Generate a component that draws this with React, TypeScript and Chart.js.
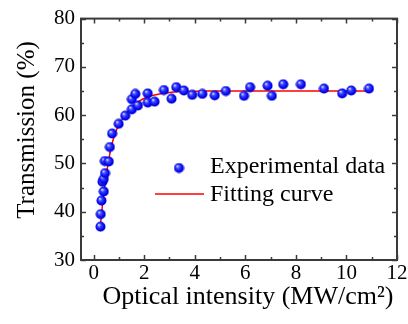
import React, { useEffect, useRef } from "react";
import { Chart, registerables } from "chart.js";

Chart.register(...registerables);

// Experimental data
const expX = [0.27, 0.28, 0.31, 0.40, 0.35, 0.40, 0.45, 0.44, 0.60, 0.64, 0.73, 0.99, 1.25, 1.51, 1.51, 1.65, 1.75, 2.14, 2.14, 2.41, 2.78, 3.08, 3.27, 3.57, 3.90, 4.30, 4.79, 5.23, 5.95, 6.19, 6.88, 7.05, 7.50, 8.20, 9.11, 9.83, 10.19, 10.89];
const expY = [36.9, 39.5, 42.3, 44.2, 46.2, 46.8, 48.0, 50.5, 50.4, 53.4, 56.2, 58.2, 59.9, 61.2, 63.3, 64.4, 62.0, 64.5, 62.6, 62.8, 65.2, 63.4, 65.8, 65.1, 64.2, 64.4, 64.1, 65.0, 64.0, 65.8, 66.1, 64.0, 66.4, 66.4, 65.5, 64.5, 65.1, 65.5];

// Fitting curve
const fitX = [0.27, 0.35, 0.42, 0.5, 0.58, 0.7, 0.85, 1.0, 1.2, 1.5, 1.8, 2.2, 2.6, 3.0, 3.5, 4.5, 6.0, 8.0, 10.9];
const fitY = [37.2, 41.5, 44.5, 47.5, 50.2, 53.5, 56.2, 58.0, 59.7, 61.6, 62.9, 63.9, 64.4, 64.7, 64.9, 65.0, 65.0, 65.0, 65.0];

// Tick values
const xTickValues = [0, 1, 2, 3, 4, 5, 6, 7, 8, 9, 10, 11, 12];
const xTickLabels = ["0", "", "2", "", "4", "", "6", "", "8", "", "10", "", "12"];
const yTickValues = [30, 35, 40, 45, 50, 55, 60, 65, 70, 75, 80];

const xTitle = "Optical intensity (MW/cm²)";
const yTitle = "Transmission (%)";
const legendLabels = ["Experimental data", "Fitting curve"];

const FONT = "'Liberation Serif', 'Times New Roman', serif";

function makeSphere(): HTMLCanvasElement {
  const c = document.createElement("canvas");
  c.width = 11;
  c.height = 11;
  const g = c.getContext("2d")!;
  const grad = g.createRadialGradient(3.8, 3.6, 0.3, 5.5, 5.5, 5.5);
  grad.addColorStop(0, "#d8dcff");
  grad.addColorStop(0.3, "#3a46ff");
  grad.addColorStop(0.75, "#0000ee");
  grad.addColorStop(1, "#0000b0");
  g.fillStyle = grad;
  g.beginPath();
  g.arc(5.5, 5.5, 5, 0, Math.PI * 2);
  g.fill();
  return c;
}

export default function App() {
  const ref = useRef<HTMLCanvasElement>(null);
  useEffect(() => {
    document.body.style.margin = "0";
    const sphere = makeSphere();
    const decor = {
      id: "decor",
      afterDraw(chart: any) {
        const ctx = chart.ctx;
        const a = chart.chartArea;
        const xs = chart.scales.x;
        const ys = chart.scales.y;
        ctx.save();
        ctx.strokeStyle = "#3a3a3a";
        ctx.lineWidth = 1.5;
        xTickValues.forEach((v) => {
          const px = Math.round(xs.getPixelForValue(v)) + 0.5;
          const len = v % 2 === 0 ? 5 : 3;
          ctx.beginPath();
          ctx.moveTo(px, a.bottom);
          ctx.lineTo(px, a.bottom - len);
          ctx.moveTo(px, a.top);
          ctx.lineTo(px, a.top + len);
          ctx.stroke();
        });
        yTickValues.forEach((v) => {
          const py = Math.round(ys.getPixelForValue(v)) + 0.5;
          const len = v % 10 === 0 ? 5 : 3;
          ctx.beginPath();
          ctx.moveTo(a.left, py);
          ctx.lineTo(a.left + len, py);
          ctx.moveTo(a.right, py);
          ctx.lineTo(a.right - len, py);
          ctx.stroke();
        });
        ctx.lineWidth = 2;
        ctx.strokeRect(a.left, a.top, a.right - a.left, a.bottom - a.top);

        // x tick labels
        ctx.fillStyle = "#000";
        ctx.font = `21px ${FONT}`;
        ctx.textAlign = "center";
        ctx.textBaseline = "middle";
        xTickValues.forEach((v, i) => {
          if (xTickLabels[i]) ctx.fillText(xTickLabels[i], xs.getPixelForValue(v), a.bottom + 13);
        });

        // titles
        ctx.font = `26px ${FONT}`;
        ctx.fillText(xTitle, 248, 297);
        ctx.save();
        ctx.translate(27, 130);
        ctx.rotate(-Math.PI / 2);
        ctx.font = `25px ${FONT}`;
        ctx.fillText(yTitle, 0, 0);
        ctx.restore();

        // legend
        ctx.font = `24px ${FONT}`;
        ctx.textAlign = "left";
        ctx.drawImage(sphere, 179 - 5.5, 168 - 5.5);
        ctx.fillText(legendLabels[0], 210, 167);
        ctx.strokeStyle = "#ff0000";
        ctx.lineWidth = 1.5;
        ctx.beginPath();
        ctx.moveTo(155, 194);
        ctx.lineTo(204, 194);
        ctx.stroke();
        ctx.fillText(legendLabels[1], 210, 195);
        ctx.restore();
      },
    };

    const chart = new Chart(ref.current!, {
      type: "scatter",
      data: {
        datasets: [
          {
            label: legendLabels[1],
            data: fitX.map((x, i) => ({ x, y: fitY[i] })),
            showLine: true,
            borderColor: "#ff0000",
            borderWidth: 1.5,
            pointRadius: 0,
            tension: 0.3,
            order: 2,
          },
          {
            label: legendLabels[0],
            data: expX.map((x, i) => ({ x, y: expY[i] })),
            pointStyle: sphere as any,
            pointRadius: 5,
            showLine: false,
            order: 1,
          },
        ],
      },
      options: {
        responsive: false,
        animation: false,
        devicePixelRatio: 1,
        layout: { padding: { top: 14, right: 11, left: 0, bottom: 0 } },
        plugins: { legend: { display: false }, tooltip: { enabled: false } },
        scales: {
          x: {
            type: "linear",
            min: -0.5,
            max: 12,
            grid: { display: false, drawTicks: false },
            border: { display: false },
            afterBuildTicks: (s: any) => {
              s.ticks = xTickValues.map((v) => ({ value: v }));
            },
            ticks: { display: false },
            afterFit: (s: any) => {
              s.height = 64;
            },
          },
          y: {
            type: "linear",
            min: 30,
            max: 80,
            grid: { display: false, drawTicks: false },
            border: { display: false },
            afterBuildTicks: (s: any) => {
              s.ticks = yTickValues.map((v) => ({ value: v }));
            },
            ticks: {
              autoSkip: false,
              padding: 6,
              color: "#000",
              font: { family: FONT, size: 21 },
              callback: (v: any) => (Number(v) % 10 === 0 ? String(v) : ""),
            },
            afterFit: (s: any) => {
              s.width = 81;
            },
          },
        },
      },
      plugins: [decor],
    });
    return () => chart.destroy();
  }, []);

  return (
    <div style={{ position: "absolute", left: 0, top: 0, width: 408, height: 324, background: "#fff" }}>
      <canvas ref={ref} width={408} height={324} style={{ width: 408, height: 324 }} />
    </div>
  );
}
